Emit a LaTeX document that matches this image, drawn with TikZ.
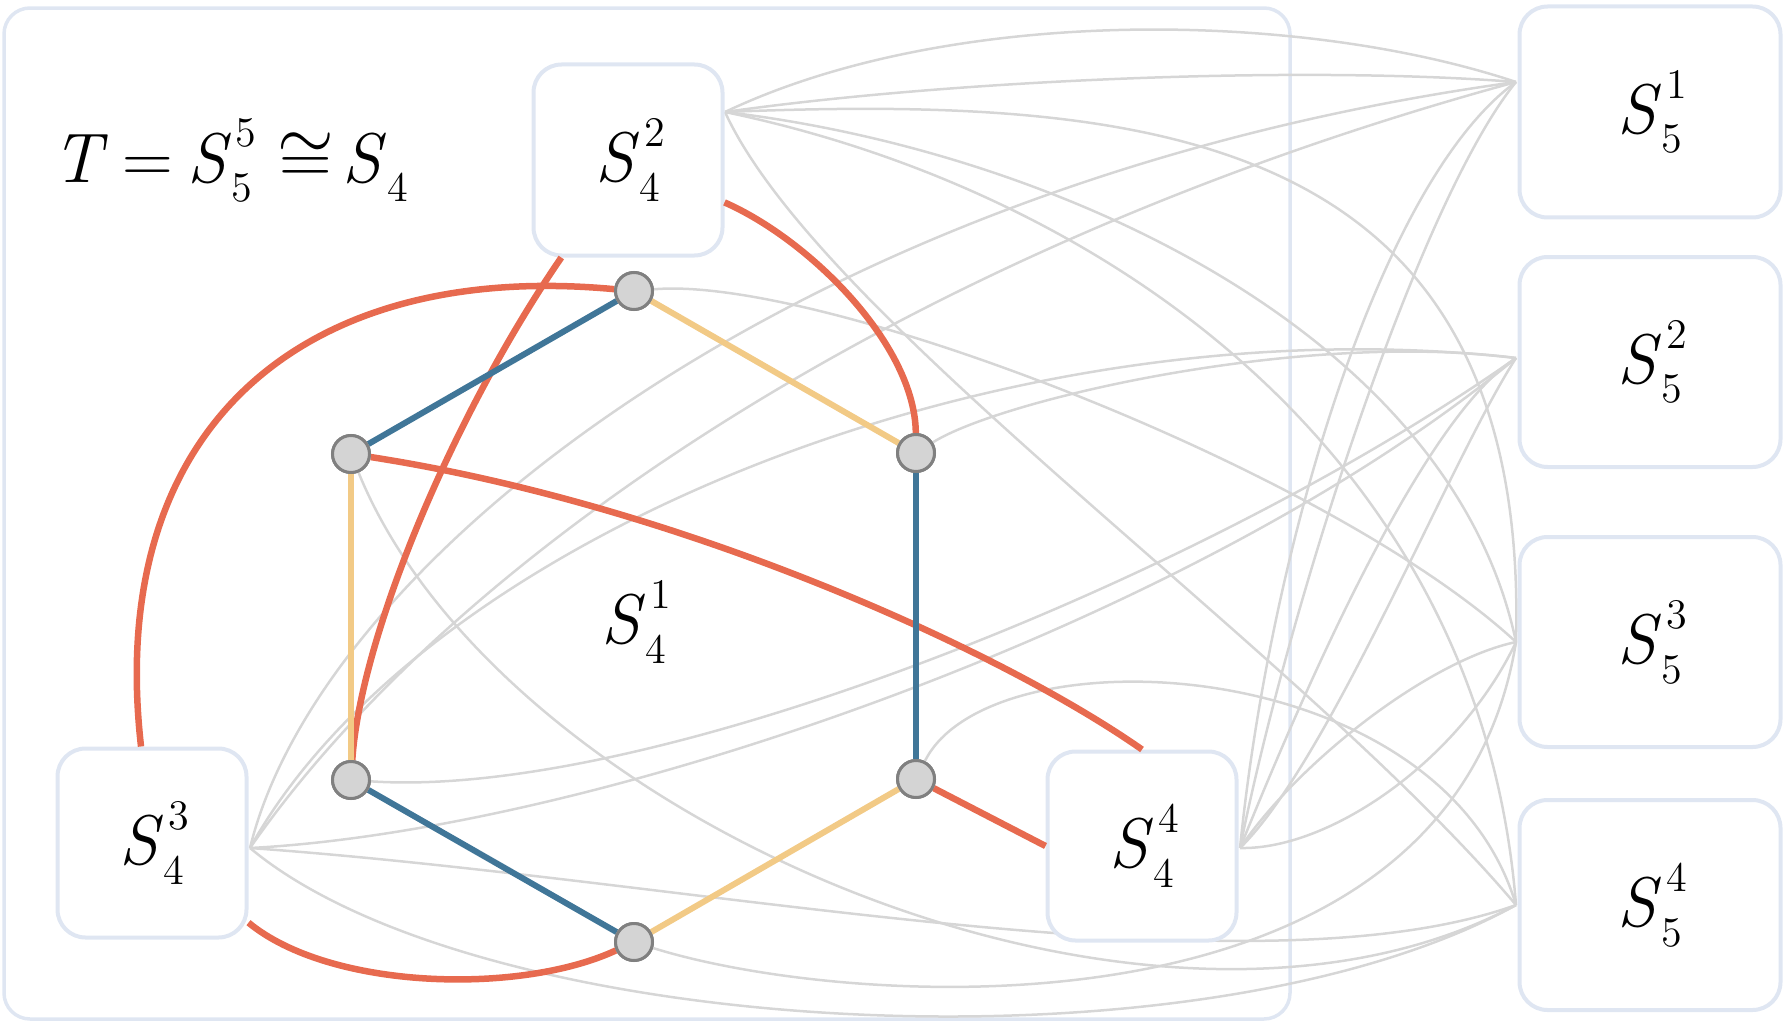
\documentclass[tikz,border=0pt]{standalone}
\usepackage{fontspec}
\newcommand\digsize{\fontsize{12pt}{13pt}\selectfont}
\newcommand\labsize{\fontsize{20pt}{24pt}\selectfont}
\newcommand\Slab[2]{\textit{S}\kern0.01em\makebox[0pt][l]{\kern0.06em\raisebox{0.5em}{\digsize #1}}\raisebox{-0.28em}{\digsize #2}}
\definecolor{redc}{RGB}{231,106,79}
\definecolor{bluec}{RGB}{64,118,152}
\definecolor{yelc}{RGB}{242,202,134}
\definecolor{grayc}{RGB}{214,214,214}
\definecolor{boxc}{RGB}{223,230,242}
\definecolor{vfill}{RGB}{212,212,212}
\definecolor{vdraw}{RGB}{128,128,128}
\tikzset{
  sbox/.style={draw=boxc, line width=0.4mm, fill=white, rounded corners=2.8mm, font=\labsize},
  tbox/.style={draw=boxc, line width=0.35mm, rounded corners=2.6mm},
  vert/.style={circle, fill=vfill, draw=vdraw, line width=0.3mm, minimum size=3.7mm, inner sep=0pt},
  gedge/.style={draw=grayc, line width=0.25mm},
  redge/.style={draw=redc, line width=0.65mm},
  bedge/.style={draw=bluec, line width=0.6mm},
  yedge/.style={draw=yelc, line width=0.6mm},
}
\begin{document}
\begin{tikzpicture}[x=0.1mm, y=-0.1mm]
\useasboundingbox (0,0) rectangle (1783,1024);
% outer T box
\node[tbox, minimum width=128.6mm, minimum height=101.1mm, inner sep=0pt] (T) at (647,513.5) {};
% attach coordinates
\coordinate (p42) at (725,112);
\coordinate (p43) at (250,848);
\coordinate (p44) at (1240,848);
\coordinate (q1) at (1516,82);
\coordinate (q2) at (1516,358);
\coordinate (q3) at (1516,642);
\coordinate (q4) at (1516,905);
% hexagon vertices
\node[vert] (vt) at (634,291) {};
\node[vert] (vul) at (351,454) {};
\node[vert] (vur) at (916,453) {};
\node[vert] (vll) at (351,780) {};
\node[vert] (vlr) at (916,779) {};
\node[vert] (vb) at (634,942) {};
% gray edges
\begin{scope}[gedge]
\draw (p42) .. controls (950,5) and (1300,10) .. (q1);
\draw (p42) .. controls (950,80) and (1300,65) .. (q1);
\draw (p42) .. controls (1150,95) and (1530,130) .. (q3);
\draw (p42) .. controls (1050,150) and (1450,330) .. (q3);
\draw (p42) .. controls (1100,190) and (1480,450) .. (q4);
\draw (p42) .. controls (820,320) and (1300,650) .. (q4);
\draw (p43) .. controls (320,560) and (800,180) .. (q1);
\draw (p43) .. controls (450,560) and (900,250) .. (q1);
\draw (p43) .. controls (420,540) and (1000,300) .. (q2);
\draw (p43) .. controls (600,830) and (1200,620) .. (q2);
\draw (p43) .. controls (700,880) and (1250,1000) .. (q4);
\draw (p43) .. controls (480,1040) and (1200,1080) .. (q4);
\draw (p44) .. controls (1270,550) and (1380,180) .. (q1);
\draw (p44) .. controls (1290,600) and (1420,200) .. (q1);
\draw (p44) .. controls (1300,700) and (1420,420) .. (q2);
\draw (p44) .. controls (1330,760) and (1450,460) .. (q2);
\draw (p44) .. controls (1330,850) and (1460,760) .. (q3);
\draw (p44) .. controls (1300,760) and (1430,660) .. (q3);
\draw (vt) .. controls (820,275) and (1330,470) .. (q3);
\draw (vb) .. controls (850,1010) and (1450,1050) .. (q3);
\draw (vur) .. controls (1000,400) and (1300,330) .. (q2);
\draw (vll) .. controls (650,800) and (1200,580) .. (q2);
\draw (vul) .. controls (500,820) and (1150,1100) .. (q4);
\draw (vlr) .. controls (990,630) and (1440,650) .. (q4);
\end{scope}
% boxes
\node[sbox, minimum width=18.9mm, minimum height=19.1mm] (b42) at (628,160) {\Slab{2}{4}};
\node[sbox, minimum width=18.9mm, minimum height=18.9mm] (b43) at (152,843) {\Slab{3}{4}};
\node[sbox, minimum width=18.9mm, minimum height=18.9mm] (b44) at (1142,846) {\Slab{4}{4}};
\node[sbox, minimum width=26.1mm, minimum height=21.1mm] (b51) at (1650,112) {\Slab{1}{5}};
\node[sbox, minimum width=26.1mm, minimum height=21.0mm] (b52) at (1650,362) {\Slab{2}{5}};
\node[sbox, minimum width=26.1mm, minimum height=21.0mm] (b53) at (1650,642) {\Slab{3}{5}};
\node[sbox, minimum width=26.1mm, minimum height=21.0mm] (b54) at (1650,905) {\Slab{4}{5}};
% labels
\node[font=\labsize, anchor=base west, inner sep=0pt] (form) at (52,182) {\textit{T}\kern0.2em=\kern0.2em\Slab{5}{5}\kern0.36em$\cong$\kern0.12em\Slab{}{4}};
\node[font=\labsize] (l41) at (634,622) {\Slab{1}{4}};
% red edges
\draw[redge] (vt) .. controls (300,260) and (105,430) .. (b43);
\draw[redge] (vb) .. controls (520,995) and (330,990) .. (b43);
\draw[redge] (b42) .. controls (810,240) and (915,345) .. (vur);
\draw[redge] (vll) .. controls (360,640) and (450,420) .. (b42);
\draw[redge] (vul) .. controls (680,505) and (1000,650) .. (b44.north);
\draw[redge] (vlr) -- (b44.west);
% hexagon edges
\draw[bedge] (vt) -- (vul);
\draw[bedge] (vur) -- (vlr);
\draw[bedge] (vll) -- (vb);
\draw[yedge] (vt) -- (vur);
\draw[yedge] (vul) -- (vll);
\draw[yedge] (vlr) -- (vb);
% redraw vertices on top
\foreach \v in {vt,vul,vur,vll,vlr,vb} {\node[vert] at (\v) {};}
\end{tikzpicture}
\end{document}
